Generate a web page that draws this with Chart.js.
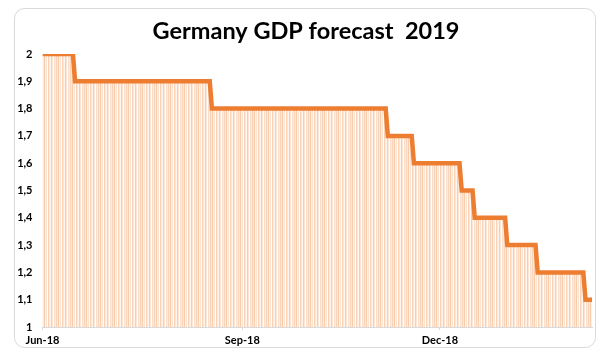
<!DOCTYPE html>
<html>
<head>
<meta charset="utf-8">
<script src="https://cdn.jsdelivr.net/npm/chart.js@4.4.1/dist/chart.umd.min.js"></script>
<style>
  html, body { margin: 0; padding: 0; background: #ffffff; }
  #wrap { position: absolute; left: 0; top: 0; width: 604px; height: 354px; }
</style>
</head>
<body>
<div id="wrap"><canvas id="c" width="604" height="354"></canvas></div>
<script>
// ---- data ----
const titleText = 'Germany GDP forecast  2019';
const baseDate = '2018-06-01';
// first day on which each forecast value applied
const changeDates = ['2018-06-01','2018-06-16','2018-08-18','2018-11-07','2018-11-19',
                     '2018-12-11','2018-12-17','2019-01-01','2019-01-15','2019-02-06'];
const forecastValues = [2.0, 1.9, 1.8, 1.7, 1.6, 1.5, 1.4, 1.3, 1.2, 1.1];
const lastDate = '2019-02-09';
const xTickDates = ['2018-06-01','2018-09-01','2018-12-01'];
const xTickLabels = ['Jun-18','Sep-18','Dec-18'];
const yTickLabels = ['1','1,1','1,2','1,3','1,4','1,5','1,6','1,7','1,8','1,9','2'];

// ---- helpers ----
function dayIndex(s) {
  const [y, m, d] = s.split('-').map(Number);
  const [by, bm, bd] = baseDate.split('-').map(Number);
  return Math.round((Date.UTC(y, m - 1, d) - Date.UTC(by, bm - 1, bd)) / 86400000);
}
const endDay = dayIndex(lastDate);
const points = [];
changeDates.forEach((ds, i) => {
  const start = dayIndex(ds);
  const end = i + 1 < changeDates.length ? dayIndex(changeDates[i + 1]) - 1 : endDay;
  points.push({ x: start, y: forecastValues[i] });
  points.push({ x: end, y: forecastValues[i] });
});
const xTickDays = xTickDates.map(dayIndex);

// striped fill pattern (Excel-like vertical hatch)
function makePattern() {
  const cols = ['#f9d5bb','#fce9dd','#f8cdae','#fdf1ea','#fbe2d1','#ffffff',
                '#f9d3b7','#fce7d9','#fef5ef','#f8cfb2','#fce6d8','#ffffff',
                '#fae0cc','#fcebe0'];
  const pc = document.createElement('canvas');
  pc.width = cols.length; pc.height = 4;
  const g = pc.getContext('2d');
  cols.forEach((c, i) => { g.fillStyle = c; g.fillRect(i, 0, 1, 4); });
  return g.createPattern(pc, 'repeat');
}

const framePlugin = {
  id: 'frame',
  beforeDraw(chart) {
    const ctx = chart.ctx;
    ctx.save();
    ctx.fillStyle = '#ffffff';
    ctx.fillRect(0, 0, chart.width, chart.height);
    const x = 14.5, y = 8.5, w = 581, h = 339, r = 10;
    ctx.beginPath();
    ctx.moveTo(x + r, y);
    ctx.arcTo(x + w, y, x + w, y + h, r);
    ctx.arcTo(x + w, y + h, x, y + h, r);
    ctx.arcTo(x, y + h, x, y, r);
    ctx.arcTo(x, y, x + w, y, r);
    ctx.closePath();
    ctx.strokeStyle = '#d9d9d9';
    ctx.lineWidth = 1;
    ctx.stroke();
    // chart title (real text)
    ctx.fillStyle = '#000000';
    ctx.font = 'bold 23.5px Lato';
    ctx.textAlign = 'center';
    ctx.textBaseline = 'alphabetic';
    ctx.fillText(titleText, 306, 38.5);
    ctx.restore();
  }
};

new Chart(document.getElementById('c'), {
  type: 'line',
  data: {
    datasets: [{
      data: points,
      borderColor: '#ed7d31',
      borderWidth: 4.5,
      backgroundColor: makePattern(),
      fill: 'start',
      pointRadius: 0,
      tension: 0,
      borderJoinStyle: 'miter'
    }]
  },
  options: {
    responsive: false,
    animation: false,
    devicePixelRatio: 1,
    layout: { padding: { left: 0, right: 12, top: 54, bottom: 0 } },
    plugins: {
      legend: { display: false },
      tooltip: { enabled: false },
      title: { display: false }
    },
    scales: {
      x: {
        type: 'linear',
        min: 0,
        max: endDay,
        afterBuildTicks(scale) {
          scale.ticks = xTickDays.map(v => ({ value: v }));
        },
        afterFit(scale) { scale.height = 27; },
        ticks: {
          autoSkip: false,
          maxRotation: 0,
          padding: 4,
          color: '#000000',
          font: { family: 'Lato', size: 11, weight: 'bold' },
          callback(value) {
            const i = xTickDays.indexOf(value);
            return i >= 0 ? xTickLabels[i] : '';
          }
        },
        grid: { drawOnChartArea: false, drawTicks: true, tickLength: 3, color: '#d9d9d9' },
        border: { display: true, color: '#d9d9d9' }
      },
      y: {
        min: 1,
        max: 2,
        afterBuildTicks(scale) {
          scale.ticks = yTickLabels.map((_, i) => ({ value: 1 + i / 10 }));
        },
        afterFit(scale) { scale.width = 42.5; },
        ticks: {
          padding: 10,
          color: '#000000',
          font: { family: 'Lato', size: 11, weight: 'bold' },
          callback(value, index) { return yTickLabels[index]; }
        },
        grid: { display: false, drawTicks: false },
        border: { display: false }
      }
    }
  },
  plugins: [framePlugin]
});
</script>
</body>
</html>
